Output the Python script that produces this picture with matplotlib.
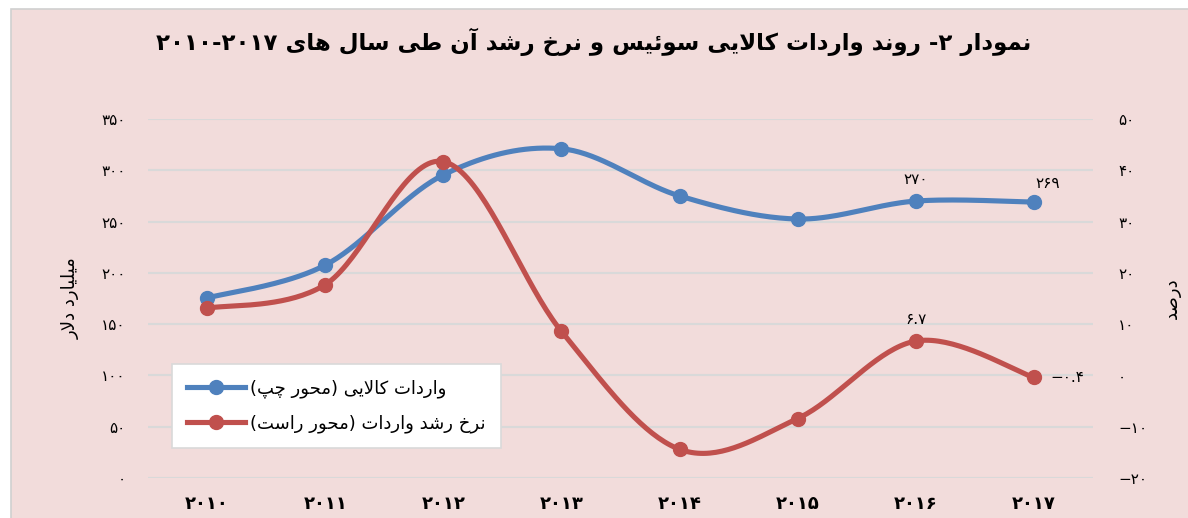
import re
import numpy as np
import matplotlib
matplotlib.use("Agg")
import matplotlib.pyplot as plt
from matplotlib.lines import Line2D
from matplotlib.patches import Rectangle

# داده‌ها
years = ["۲۰۱۰", "۲۰۱۱", "۲۰۱۲", "۲۰۱۳", "۲۰۱۴", "۲۰۱۵", "۲۰۱۶", "۲۰۱۷"]
imports = [175.5, 207.5, 295.5, 321, 275, 252.5, 270, 269]
growth = [13.1, 17.7, 41.7, 8.6, -14.4, -8.4, 6.7, -0.4]
left_ticks = [0, 50, 100, 150, 200, 250, 300, 350]
right_ticks = [-20, -10, 0, 10, 20, 30, 40, 50]

title_txt = "نمودار ۲- روند واردات کالایی سوئیس و نرخ رشد آن طی سال های ۲۰۱۰-۲۰۱۷"
ylabel_left = "میلیارد دلار"
ylabel_right = "درصد"
legend_labels = ["واردات کالایی (محور چپ)", "نرخ رشد واردات (محور راست)"]

BLUE = "#4F81BD"
RED = "#C0504D"
BG = "#F2DCDB"
GRID = "#D9D9D9"

# --- شکل‌دهی ساده حروف فارسی (بدون arabic_reshaper) ---
FORMS = {  # isolated, final, initial, medial
    "ا": ("\uFE8D", "\uFE8E", None, None),
    "آ": ("\uFE81", "\uFE82", None, None),
    "د": ("\uFEA9", "\uFEAA", None, None),
    "ر": ("\uFEAD", "\uFEAE", None, None),
    "ز": ("\uFEAF", "\uFEB0", None, None),
    "و": ("\uFEED", "\uFEEE", None, None),
    "ب": ("\uFE8F", "\uFE90", "\uFE91", "\uFE92"),
    "پ": ("\uFB56", "\uFB57", "\uFB58", "\uFB59"),
    "ت": ("\uFE95", "\uFE96", "\uFE97", "\uFE98"),
    "ح": ("\uFEA1", "\uFEA2", "\uFEA3", "\uFEA4"),
    "خ": ("\uFEA5", "\uFEA6", "\uFEA7", "\uFEA8"),
    "چ": ("\uFB7A", "\uFB7B", "\uFB7C", "\uFB7D"),
    "س": ("\uFEB1", "\uFEB2", "\uFEB3", "\uFEB4"),
    "ش": ("\uFEB5", "\uFEB6", "\uFEB7", "\uFEB8"),
    "ص": ("\uFEB9", "\uFEBA", "\uFEBB", "\uFEBC"),
    "ط": ("\uFEC1", "\uFEC2", "\uFEC3", "\uFEC4"),
    "ک": ("\uFB8E", "\uFB8F", "\uFB90", "\uFB91"),
    "ل": ("\uFEDD", "\uFEDE", "\uFEDF", "\uFEE0"),
    "م": ("\uFEE1", "\uFEE2", "\uFEE3", "\uFEE4"),
    "ن": ("\uFEE5", "\uFEE6", "\uFEE7", "\uFEE8"),
    "ه": ("\uFEE9", "\uFEEA", "\uFEEB", "\uFEEC"),
    "ی": ("\uFBFC", "\uFBFD", "\uFBFE", "\uFBFF"),
    "ئ": ("\uFE89", "\uFE8A", "\uFE8B", "\uFE8C"),
}


def shape_word(w):
    out = []
    i = 0
    prev_joins = False
    while i < len(w):
        c = w[i]
        if c == "ل" and i + 1 < len(w) and w[i + 1] == "ا":
            out.append("\uFEFC" if prev_joins else "\uFEFB")
            prev_joins = False
            i += 2
            continue
        iso, fin, ini, med = FORMS[c]
        next_ok = ini is not None and i + 1 < len(w) and w[i + 1] in FORMS
        if prev_joins and next_ok:
            g = med
        elif prev_joins:
            g = fin
        elif next_ok:
            g = ini
        else:
            g = iso
        out.append(g)
        prev_joins = next_ok
        i += 1
    return "".join(reversed(out))


def fa(text):
    tokens = re.findall(r"[۰-۹]+(?:[.\-][۰-۹]+)*|[\u0600-\u06FF]+|.", text)
    mirror = {"(": ")", ")": "("}
    vis = []
    for t in reversed(tokens):
        if t[0] in FORMS:
            vis.append(shape_word(t))
        else:
            vis.append(mirror.get(t, t))
    return "".join(vis)


def smooth(xs, ys, n=40):
    p = np.column_stack([xs, ys]).astype(float)
    p = np.vstack([p[0], p, p[-1]])
    t = np.linspace(0, 1, n)[:, None]
    segs = []
    for i in range(1, len(p) - 2):
        p0, p1, p2, p3 = p[i - 1], p[i], p[i + 1], p[i + 2]
        c1 = p1 + (p2 - p0) / 6
        c2 = p2 - (p3 - p1) / 6
        b = ((1 - t) ** 3) * p1 + 3 * ((1 - t) ** 2) * t * c1 + 3 * (1 - t) * t ** 2 * c2 + t ** 3 * p2
        segs.append(b)
    s = np.vstack(segs)
    return s[:, 0], s[:, 1]


def fa_num(v):
    return str(v).translate(str.maketrans("0123456789-", "۰۱۲۳۴۵۶۷۸۹−"))


plt.rcParams["font.family"] = ["DejaVu Sans"]

fig = plt.figure(figsize=(11.88, 5.18), dpi=100, facecolor="white")
fig.patches.append(Rectangle((11 / 1188, -0.1), 1.2, 1.1 - 9 / 518, transform=fig.transFigure,
                             facecolor=BG, edgecolor="#D0D0D0", linewidth=1.2, zorder=-10))

ax = fig.add_axes([148 / 1188, 40 / 518, 945 / 1188, 359 / 518])
ax.set_facecolor("none")
ax2 = ax.twinx()

x = np.arange(len(years))

bx, by = smooth(x, imports)
ax.plot(bx, by, color=BLUE, lw=3.7, solid_capstyle="round", zorder=3)
ax.plot(x, imports, "o", color=BLUE, ms=10, zorder=4)

rx, ry = smooth(x, growth)
ax2.plot(rx, ry, color=RED, lw=3.7, solid_capstyle="round", zorder=3)
ax2.plot(x, growth, "o", color=RED, ms=10, zorder=4)

ax.set_xlim(-0.5, len(years) - 0.5)
ax.set_ylim(0, 350)
ax2.set_ylim(-20, 50)
ax.set_yticks(left_ticks)
ax.set_yticklabels([fa_num(v) for v in left_ticks], fontsize=11)
ax2.set_yticks(right_ticks)
ax2.set_yticklabels([fa_num(v) for v in right_ticks], fontsize=11)
ax.set_xticks(x)
ax.set_xticklabels(years, fontsize=13, fontweight="bold")

ax.grid(axis="y", color=GRID, lw=1.5, zorder=0)
ax.set_axisbelow(True)
for a in (ax, ax2):
    for sp in a.spines.values():
        sp.set_visible(False)
    a.tick_params(length=0)
ax.tick_params(axis="y", pad=16)
ax2.tick_params(axis="y", pad=18)
ax.tick_params(axis="x", pad=12)

ax.set_ylabel(fa(ylabel_left), fontsize=13)
ax.yaxis.set_label_coords(-0.072, 0.5)
ax2.set_ylabel(fa(ylabel_right), fontsize=13, rotation=90)
ax2.yaxis.set_label_coords(1.074, 0.5)

# برچسب داده‌ها
ax.annotate(fa_num(imports[6]), (x[6], imports[6]), xytext=(0, 10), textcoords="offset points",
            ha="center", va="bottom", fontsize=11)
ax.annotate(fa_num(imports[7]), (x[7], imports[7]), xytext=(10, 8), textcoords="offset points",
            ha="center", va="bottom", fontsize=11)
ax2.annotate(fa_num(growth[6]), (x[6], growth[6]), xytext=(0, 10), textcoords="offset points",
             ha="center", va="bottom", fontsize=11)
ax2.annotate(fa_num(growth[7]), (x[7], growth[7]), xytext=(12, 0), textcoords="offset points",
             ha="left", va="center", fontsize=11)

handles = [Line2D([], [], color=BLUE, lw=3.7, marker="o", ms=10),
           Line2D([], [], color=RED, lw=3.7, marker="o", ms=10)]
leg = ax.legend(handles, [fa(t) for t in legend_labels], loc="lower left",
                bbox_to_anchor=(0.025, 0.083), borderaxespad=0, fontsize=13, frameon=True,
                fancybox=False, framealpha=1, handlelength=3.2, handletextpad=0.3,
                labelspacing=0.9, borderpad=0.85, numpoints=1)
leg.get_frame().set_facecolor("white")
leg.get_frame().set_edgecolor(GRID)
leg.get_frame().set_linewidth(1.2)
leg.set_zorder(10)

fig.text(0.5, 1 - 42 / 518, fa(title_txt), ha="center", va="center", fontsize=16.5, fontweight="bold")

fig.savefig("out.png", dpi=100, facecolor=fig.get_facecolor())
